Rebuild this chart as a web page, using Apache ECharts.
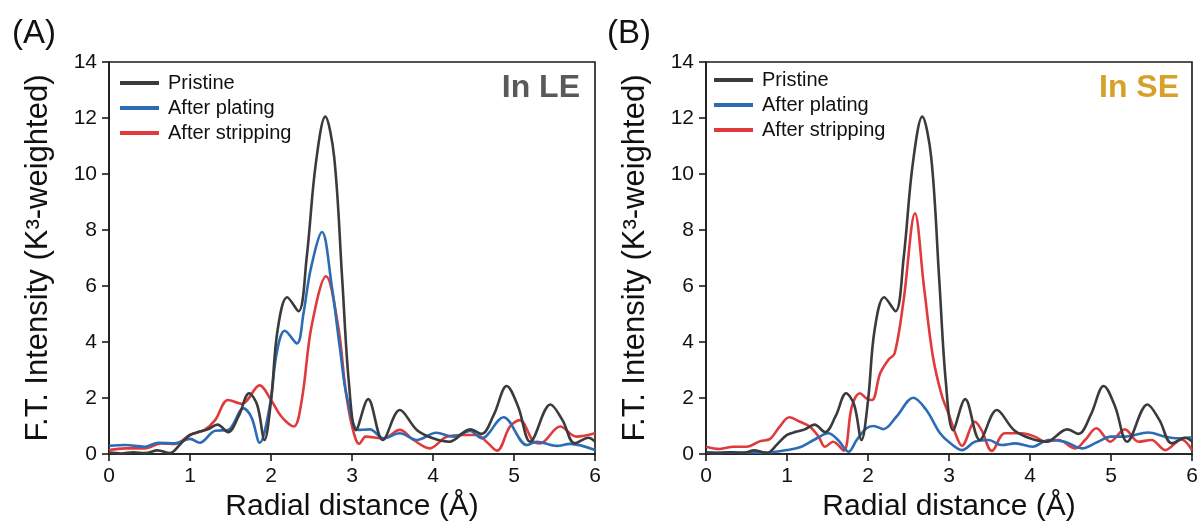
<!DOCTYPE html>
<html>
<head>
<meta charset="utf-8">
<style>
  html, body { margin: 0; padding: 0; background: #fff; }
  #chart { width: 1202px; height: 528px; }
</style>
<script src="https://cdn.jsdelivr.net/npm/echarts@6/dist/echarts.min.js"></script>
</head>
<body>
<div id="chart"></div>
<script>
// Fourier-transformed EXAFS spectra, [R (Å), |FT|] pairs.
const pristine = [
  [0, 0.05], [0.15, 0.02], [0.3, 0.06], [0.45, 0.03], [0.6, 0.13], [0.75, 0.03],
  [0.88, 0.35], [1.0, 0.68], [1.12, 0.8], [1.22, 0.88], [1.34, 1.05], [1.47, 0.78],
  [1.6, 1.35], [1.73, 2.17], [1.83, 1.75], [1.92, 0.5], [2.0, 1.9], [2.08, 4.4],
  [2.2, 5.6], [2.34, 5.1], [2.44, 7.0], [2.55, 10.3], [2.67, 12.05], [2.78, 10.6],
  [2.88, 6.2], [2.96, 2.6], [3.05, 0.85], [3.2, 1.96], [3.38, 0.5], [3.59, 1.57],
  [3.8, 0.86], [4.0, 0.56], [4.2, 0.44], [4.46, 0.88], [4.6, 0.72], [4.75, 1.4],
  [4.91, 2.43], [5.05, 1.7], [5.2, 0.44], [5.45, 1.77], [5.6, 1.2], [5.75, 0.38],
  [5.92, 0.58], [6.0, 0.44]
];

const platingLE = [
  [0, 0.29], [0.2, 0.32], [0.44, 0.26], [0.61, 0.4], [0.81, 0.38], [1.0, 0.54],
  [1.12, 0.4], [1.31, 0.83], [1.47, 0.86], [1.66, 1.63], [1.76, 1.3], [1.86, 0.4],
  [1.99, 1.8], [2.07, 3.6], [2.17, 4.4], [2.32, 3.95], [2.4, 5.0], [2.49, 6.6],
  [2.63, 7.93], [2.75, 6.0], [2.85, 3.8], [2.94, 2.0], [3.08, 0.86], [3.22, 0.88],
  [3.39, 0.56], [3.59, 0.74], [3.8, 0.5], [4.04, 0.76], [4.25, 0.62], [4.46, 0.82],
  [4.6, 0.56], [4.87, 1.31], [5.16, 0.32], [5.28, 0.44], [5.53, 0.29], [5.69, 0.36],
  [6.0, 0.14]
];

const strippingLE = [
  [0, 0.14], [0.2, 0.2], [0.44, 0.2], [0.65, 0.38], [0.81, 0.36], [1.0, 0.68],
  [1.18, 0.86], [1.31, 1.21], [1.47, 1.93], [1.64, 1.79], [1.86, 2.45], [2.0, 1.93],
  [2.13, 1.33], [2.28, 0.98], [2.38, 1.93], [2.5, 4.55], [2.68, 6.35], [2.83, 4.55],
  [2.92, 2.3], [3.0, 1.0], [3.09, 0.36], [3.17, 0.62], [3.39, 0.56], [3.59, 0.86],
  [3.76, 0.5], [3.96, 0.2], [4.17, 0.62], [4.38, 0.68], [4.54, 0.68], [4.66, 0.44],
  [4.79, 0.12], [4.95, 0.98], [5.07, 1.21], [5.24, 0.44], [5.32, 0.38], [5.57, 0.98],
  [5.77, 0.62], [6.0, 0.74]
];

const platingSE = [
  [0, 0.05], [0.34, 0.06], [0.75, 0.05], [1.0, 0.14], [1.16, 0.24], [1.33, 0.5],
  [1.51, 0.74], [1.63, 0.5], [1.76, 0.08], [1.86, 0.5], [1.98, 0.92], [2.07, 1.0],
  [2.19, 0.89], [2.35, 1.33], [2.56, 2.01], [2.72, 1.57], [2.89, 0.74], [3.01, 0.4],
  [3.16, 0.14], [3.32, 0.44], [3.49, 0.5], [3.65, 0.32], [3.82, 0.38], [4.03, 0.26],
  [4.23, 0.5], [4.43, 0.44], [4.64, 0.2], [4.84, 0.44], [5.0, 0.62], [5.17, 0.62],
  [5.46, 0.77], [5.67, 0.62], [5.83, 0.56], [6.0, 0.6]
];

const strippingSE = [
  [0, 0.26], [0.17, 0.18], [0.34, 0.26], [0.5, 0.26], [0.67, 0.46], [0.79, 0.54],
  [0.91, 0.98], [1.03, 1.31], [1.16, 1.15], [1.28, 0.98], [1.39, 0.62], [1.47, 0.26],
  [1.57, 0.44], [1.7, 0.12], [1.8, 1.69], [1.9, 2.17], [1.98, 1.99], [2.05, 1.93],
  [2.15, 2.88], [2.25, 3.36], [2.33, 3.6], [2.44, 5.5], [2.58, 8.6], [2.69, 6.0],
  [2.8, 3.5], [2.91, 2.1], [3.0, 1.4], [3.07, 0.8], [3.16, 0.29], [3.32, 1.15],
  [3.4, 0.86], [3.53, 0.11], [3.69, 0.74], [3.9, 0.74], [4.06, 0.62], [4.19, 0.44],
  [4.35, 0.5], [4.56, 0.2], [4.68, 0.5], [4.82, 0.92], [4.99, 0.44], [5.17, 0.88],
  [5.34, 0.44], [5.5, 0.5], [5.67, 0.14], [5.87, 0.52], [6.0, 0.14]
];

const seriesNames = ['Pristine', 'After plating', 'After stripping'];
const seriesColors = ['#3b3b3b', '#2c6cb5', '#e03a3c'];
const panelLabels = ['(A)', '(B)'];
const mediumTags = ['In LE', 'In SE'];
const tagColors = ['#595959', '#d6a127'];

const FONT = '"Liberation Sans", Arial, sans-serif';
const AXIS_COLOR = '#1a1a1a';

const panels = [
  { left: 109, data: [pristine, platingLE, strippingLE], legendLeft: 120, legendTop: 73, tagRight: 622, labelLeft: 12 },
  { left: 706, data: [pristine, platingSE, strippingSE], legendLeft: 714, legendTop: 70, tagRight: 23, labelLeft: 607 }
];

const grids = [], xAxes = [], yAxes = [], series = [], legends = [], titles = [];

panels.forEach((p, i) => {
  grids.push({
    left: p.left, top: 62, width: 486, height: 392,
    show: true, borderColor: AXIS_COLOR, borderWidth: 1.6, backgroundColor: 'transparent'
  });
  xAxes.push({
    type: 'value', gridIndex: i, min: 0, max: 6, interval: 1,
    name: 'Radial distance (Å)', nameLocation: 'middle', nameGap: 33,
    nameTextStyle: { fontFamily: FONT, fontSize: 30, color: '#111' },
    axisLine: { show: true, onZero: false, lineStyle: { color: AXIS_COLOR, width: 1.6 } },
    axisTick: { show: true, inside: false, length: 7, lineStyle: { color: AXIS_COLOR, width: 1.6 } },
    axisLabel: { fontFamily: FONT, fontSize: 21, color: '#111', margin: 12 },
    splitLine: { show: false }
  });
  yAxes.push({
    type: 'value', gridIndex: i, min: 0, max: 14, interval: 2,
    name: 'F.T. Intensity (K³-weighted)', nameLocation: 'middle', nameGap: 55,
    nameTextStyle: { fontFamily: FONT, fontSize: 31, color: '#111' },
    axisLine: { show: true, lineStyle: { color: AXIS_COLOR, width: 1.6 } },
    axisTick: { show: true, inside: false, length: 7, lineStyle: { color: AXIS_COLOR, width: 1.6 } },
    axisLabel: { fontFamily: FONT, fontSize: 21, color: '#111', margin: 12 },
    splitLine: { show: false }
  });
  seriesNames.forEach((name, k) => {
    series.push({
      name, type: 'line', xAxisIndex: i, yAxisIndex: i,
      data: p.data[k], smooth: 0.35, showSymbol: false,
      lineStyle: { color: seriesColors[k], width: 2.6 },
      itemStyle: { color: seriesColors[k] },
      z: 3 - k
    });
  });
  legends.push({
    orient: 'vertical', left: p.legendLeft, top: p.legendTop, padding: 0,
    data: seriesNames, icon: 'rect', itemWidth: 39, itemHeight: 4, itemGap: 5,
    selectedMode: false,
    textStyle: { fontFamily: FONT, fontSize: 20, color: '#111', lineHeight: 20, padding: [0, 0, 0, 4] }
  });
  titles.push({
    text: panelLabels[i], left: p.labelLeft, top: 17, padding: 0,
    textStyle: { fontFamily: FONT, fontSize: 33, fontWeight: 'normal', color: '#111' }
  });
  titles.push({
    text: mediumTags[i], right: p.tagRight, top: 72, padding: 0,
    textStyle: { fontFamily: FONT, fontSize: 32, fontWeight: 'bold', color: tagColors[i] }
  });
});

const chart = echarts.init(document.getElementById('chart'), null, { renderer: 'canvas' });
chart.setOption({
  animation: false,
  backgroundColor: '#ffffff',
  title: titles,
  legend: legends,
  grid: grids,
  xAxis: xAxes,
  yAxis: yAxes,
  series
});
</script>
</body>
</html>
